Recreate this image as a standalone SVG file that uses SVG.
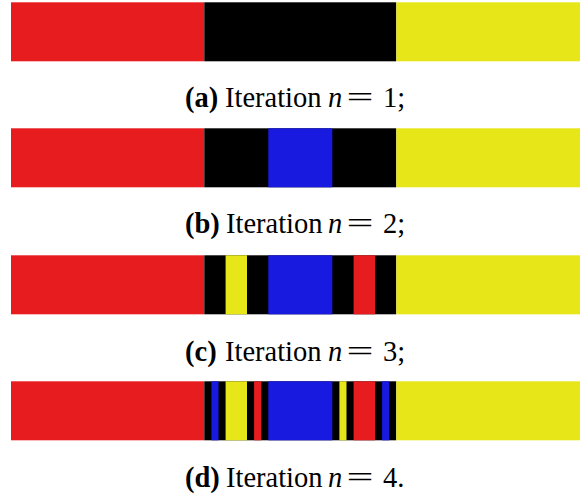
<svg xmlns="http://www.w3.org/2000/svg" width="580" height="497" viewBox="0 0 580 497">
  <style>
    .r { fill: #e61c1e; }
    .k { fill: #000000; }
    .b { fill: #181ae0; }
    .y { fill: #e6e619; }
    .cap { font-family: "Liberation Serif", "Times New Roman", serif; font-size: 28.5px; fill: #000; }
    .bf { font-weight: bold; }
    .it { font-style: italic; }
  </style>
  <rect width="580" height="497" fill="#ffffff"/>

  <!-- (a) n = 1 -->
  <g id="iter1">
    <rect class="r" x="11" y="2.3" width="193.3" height="59"/>
    <rect class="k" x="204.3" y="2.3" width="192" height="59"/>
    <rect class="y" x="396.3" y="2.3" width="184" height="59"/>
    <text class="cap" y="107"><tspan class="bf" x="185">(a)</tspan><tspan x="225">Iteration</tspan><tspan class="it" x="328">n</tspan><tspan x="383">1;</tspan></text>
    <text class="cap" x="346.5" y="107" textLength="27" lengthAdjust="spacingAndGlyphs">=</text>
  </g>

  <!-- (b) n = 2 -->
  <g id="iter2">
    <rect class="r" x="11" y="128.3" width="193.3" height="59"/>
    <rect class="k" x="204.3" y="128.3" width="192" height="59"/>
    <rect class="b" x="268.3" y="128.3" width="64" height="59"/>
    <rect class="y" x="396.3" y="128.3" width="184" height="59"/>
    <text class="cap" y="233"><tspan class="bf" x="185">(b)</tspan><tspan x="226">Iteration</tspan><tspan class="it" x="328">n</tspan><tspan x="383">2;</tspan></text>
    <text class="cap" x="346.5" y="233" textLength="27" lengthAdjust="spacingAndGlyphs">=</text>
  </g>

  <!-- (c) n = 3 -->
  <g id="iter3">
    <rect class="r" x="11" y="255.3" width="193.3" height="59"/>
    <rect class="k" x="204.3" y="255.3" width="192" height="59"/>
    <rect class="y" x="225.6" y="255.3" width="21.4" height="59"/>
    <rect class="b" x="268.3" y="255.3" width="64" height="59"/>
    <rect class="r" x="353.6" y="255.3" width="21.4" height="59"/>
    <rect class="y" x="396.3" y="255.3" width="184" height="59"/>
    <text class="cap" y="361"><tspan class="bf" x="185">(c)</tspan><tspan x="225">Iteration</tspan><tspan class="it" x="328">n</tspan><tspan x="383">3;</tspan></text>
    <text class="cap" x="346.5" y="361" textLength="27" lengthAdjust="spacingAndGlyphs">=</text>
  </g>

  <!-- (d) n = 4 -->
  <g id="iter4">
    <rect class="r" x="11" y="381.3" width="193.3" height="59"/>
    <rect class="k" x="204.3" y="381.3" width="192" height="59"/>
    <rect class="b" x="211.4" y="381.3" width="7.1" height="59"/>
    <rect class="y" x="225.6" y="381.3" width="21.4" height="59"/>
    <rect class="r" x="254.1" y="381.3" width="7.1" height="59"/>
    <rect class="b" x="268.3" y="381.3" width="64" height="59"/>
    <rect class="y" x="339.4" y="381.3" width="7.1" height="59"/>
    <rect class="r" x="353.6" y="381.3" width="21.4" height="59"/>
    <rect class="b" x="382.1" y="381.3" width="7.1" height="59"/>
    <rect class="y" x="396.3" y="381.3" width="184" height="59"/>
    <text class="cap" y="487"><tspan class="bf" x="185">(d)</tspan><tspan x="226">Iteration</tspan><tspan class="it" x="328">n</tspan><tspan x="383">4.</tspan></text>
    <text class="cap" x="346.5" y="487" textLength="27" lengthAdjust="spacingAndGlyphs">=</text>
  </g>
</svg>
